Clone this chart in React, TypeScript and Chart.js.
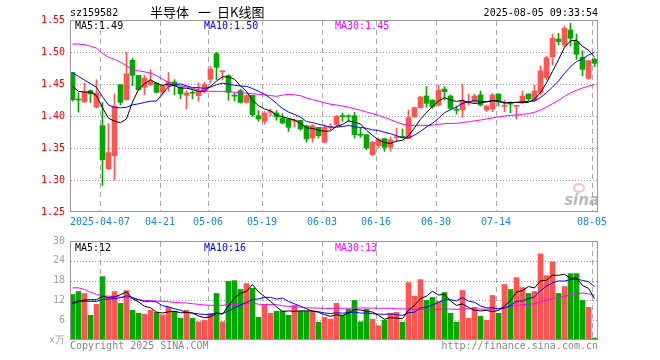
import React, { useEffect, useRef } from 'react';
import { Chart, registerables } from 'chart.js';
Chart.register(...registerables);

// ---------- data ----------
const DATE_LABELS = ['2025-04-07', '04-21', '05-06', '05-19', '06-03', '06-16', '06-30', '07-14', '08-05'];
const DATE_INDEX = [5, 15, 23, 32, 42, 51, 61, 71, 87];

const OPEN = [1.468, 1.4258, 1.422, 1.4396, 1.414, 1.385, 1.3177, 1.338, 1.449, 1.4255,
  1.487, 1.4635, 1.4448, 1.449, 1.4516, 1.437, 1.4464, 1.4531, 1.4453, 1.4323,
  1.4365, 1.4318, 1.4385, 1.4578, 1.4974, 1.469, 1.463, 1.4318, 1.4396, 1.4213,
  1.4323, 1.4005, 1.3917, 1.4057, 1.4047, 1.3969, 1.3953, 1.3917, 1.3932, 1.3849,
  1.3656, 1.3823, 1.359, 1.3823, 1.3865, 1.3995, 1.3995, 1.4005, 1.3705, 1.3708,
  1.3396, 1.3536, 1.3646, 1.3515, 1.366, 1.3672, 1.365, 1.399, 1.413, 1.4312,
  1.425, 1.4172, 1.4422, 1.4312, 1.4096, 1.4094, 1.4214, 1.4224, 1.4328, 1.4094,
  1.4109, 1.4344, 1.4151, 1.419, 1.4151, 1.4208, 1.4344, 1.425, 1.4364, 1.4599,
  1.4927, 1.5203, 1.511, 1.5344, 1.5162, 1.4917, 1.4588, 1.4885];
const HIGH = [1.468, 1.436, 1.4515, 1.441, 1.4568, 1.4213, 1.388, 1.4344, 1.449, 1.4995,
  1.49, 1.4635, 1.4635, 1.4724, 1.4526, 1.449, 1.468, 1.4568, 1.4453, 1.4396,
  1.44, 1.4516, 1.4526, 1.4776, 1.4995, 1.4708, 1.4646, 1.436, 1.442, 1.4333,
  1.4323, 1.4083, 1.407, 1.411, 1.4083, 1.4036, 1.3953, 1.3953, 1.3932, 1.3849,
  1.3865, 1.3823, 1.3865, 1.388, 1.401, 1.4047, 1.402, 1.4057, 1.3813, 1.3708,
  1.3604, 1.3656, 1.3646, 1.3672, 1.3813, 1.3797, 1.4094, 1.414, 1.431, 1.4458,
  1.425, 1.4484, 1.4458, 1.4328, 1.4156, 1.45, 1.4343, 1.4343, 1.439, 1.4172,
  1.4354, 1.4344, 1.425, 1.4224, 1.4156, 1.439, 1.4344, 1.4484, 1.4786, 1.4937,
  1.5281, 1.5292, 1.5406, 1.5448, 1.5281, 1.502, 1.4875, 1.4901];
const LOW = [1.423, 1.406, 1.421, 1.421, 1.4125, 1.2917, 1.316, 1.3005, 1.417, 1.4245,
  1.4474, 1.4405, 1.4333, 1.4474, 1.4365, 1.433, 1.4385, 1.4333, 1.427, 1.411,
  1.427, 1.423, 1.436, 1.4516, 1.4568, 1.4568, 1.4245, 1.423, 1.42, 1.42,
  1.3995, 1.3917, 1.3875, 1.4, 1.3932, 1.3875, 1.376, 1.3828, 1.3776, 1.359,
  1.359, 1.3656, 1.358, 1.3786, 1.384, 1.3917, 1.3917, 1.3656, 1.3667, 1.3474,
  1.338, 1.35, 1.3448, 1.3448, 1.3604, 1.366, 1.365, 1.3975, 1.412, 1.4135,
  1.412, 1.4156, 1.425, 1.4094, 1.403, 1.3979, 1.4172, 1.4198, 1.4156, 1.4068,
  1.4068, 1.4156, 1.4068, 1.405, 1.3953, 1.4198, 1.4234, 1.4224, 1.4328, 1.4562,
  1.4797, 1.511, 1.5083, 1.5094, 1.4885, 1.4625, 1.4573, 1.4771];
const CLOSE = [1.4255, 1.425, 1.4375, 1.4344, 1.436, 1.3317, 1.3427, 1.4156, 1.4213, 1.4661,
  1.4635, 1.441, 1.4594, 1.4542, 1.437, 1.4464, 1.4531, 1.4474, 1.4344, 1.436,
  1.4355, 1.4385, 1.449, 1.4734, 1.476, 1.4698, 1.437, 1.431, 1.4213, 1.4318,
  1.402, 1.3953, 1.4047, 1.4065, 1.3985, 1.3891, 1.3823, 1.3922, 1.3797, 1.3641,
  1.3849, 1.3693, 1.3823, 1.383, 1.3995, 1.399, 1.3988, 1.3708, 1.37, 1.35,
  1.359, 1.363, 1.351, 1.363, 1.367, 1.3667, 1.3974, 1.413, 1.4297, 1.4198,
  1.4146, 1.4406, 1.438, 1.412, 1.409, 1.4234, 1.4224, 1.4312, 1.4172, 1.4156,
  1.4328, 1.4224, 1.4156, 1.4185, 1.4156, 1.4312, 1.4265, 1.439, 1.4708, 1.4911,
  1.5214, 1.5162, 1.537, 1.5214, 1.4964, 1.4729, 1.4865, 1.4823];

const MA5 = [1.4464, 1.4385, 1.4375, 1.4375, 1.4317, 1.4129, 1.3965, 1.3921, 1.3895, 1.3955,
  1.4218, 1.4415, 1.4503, 1.4568, 1.451, 1.4476, 1.45, 1.4476, 1.4437, 1.4435,
  1.4413, 1.4384, 1.4387, 1.4465, 1.4545, 1.4613, 1.461, 1.4574, 1.447, 1.4382,
  1.4246, 1.4163, 1.411, 1.4081, 1.4014, 1.3988, 1.3962, 1.3937, 1.3884, 1.3815,
  1.3806, 1.378, 1.3761, 1.3767, 1.3838, 1.3866, 1.3925, 1.3902, 1.3876, 1.3777,
  1.3697, 1.3626, 1.3586, 1.3572, 1.3606, 1.3621, 1.369, 1.3814, 1.3948, 1.4053,
  1.4149, 1.4235, 1.4285, 1.425, 1.4228, 1.4246, 1.421, 1.4196, 1.4206, 1.422,
  1.4238, 1.4238, 1.4207, 1.421, 1.421, 1.4207, 1.4215, 1.4262, 1.4366, 1.4517,
  1.4698, 1.4877, 1.5073, 1.5174, 1.5185, 1.5088, 1.5028, 1.4919];
const MA10 = [1.4672, 1.462, 1.456, 1.4505, 1.445, 1.43, 1.417, 1.4135, 1.4128, 1.4136,
  1.4174, 1.419, 1.4212, 1.4232, 1.4233, 1.4347, 1.4458, 1.4489, 1.4503, 1.4472,
  1.4444, 1.4442, 1.4432, 1.4451, 1.449, 1.4513, 1.4497, 1.4481, 1.4468, 1.4463,
  1.443, 1.4387, 1.4342, 1.4275, 1.4198, 1.4117, 1.4063, 1.4024, 1.3982, 1.3914,
  1.3897, 1.3871, 1.3849, 1.3825, 1.3826, 1.3836, 1.3853, 1.3831, 1.3822, 1.3808,
  1.3782, 1.3775, 1.3744, 1.3724, 1.3692, 1.3659, 1.3658, 1.37, 1.376, 1.383,
  1.3885, 1.3963, 1.405, 1.4099, 1.4141, 1.4198, 1.4223, 1.4241, 1.4228, 1.4224,
  1.4242, 1.4224, 1.4202, 1.4208, 1.4215, 1.4223, 1.4227, 1.4234, 1.4288, 1.4364,
  1.4452, 1.4546, 1.4667, 1.477, 1.4851, 1.4893, 1.4953, 1.4996];
const MA30 = [1.5125, 1.5125, 1.5115, 1.509, 1.506, 1.498, 1.492, 1.4885, 1.484, 1.479,
  1.4724, 1.4705, 1.469, 1.467, 1.463, 1.4575, 1.4525, 1.4495, 1.4475, 1.4455,
  1.443, 1.441, 1.4395, 1.4385, 1.4385, 1.4385, 1.4378, 1.4372, 1.4365, 1.4357,
  1.4349, 1.4339, 1.4329, 1.4319, 1.4307, 1.4326, 1.4339, 1.4331, 1.4317, 1.4283,
  1.4257, 1.4233, 1.4208, 1.4184, 1.4171, 1.4156, 1.4137, 1.4112, 1.409, 1.4062,
  1.4036, 1.4011, 1.3978, 1.3942, 1.3905, 1.3871, 1.3858, 1.3852, 1.3855, 1.3851,
  1.3855, 1.387, 1.3881, 1.3883, 1.3886, 1.3898, 1.3911, 1.3924, 1.3937, 1.3954,
  1.397, 1.3987, 1.3999, 1.401, 1.4016, 1.4026, 1.4036, 1.4058, 1.4092, 1.4139,
  1.4193, 1.4244, 1.4306, 1.4359, 1.4402, 1.4438, 1.4467, 1.449];

const VOLUME = [13.8, 14.7, 14.1, 7.5, 10.8, 19.2, 12.9, 14.7, 11.1, 15.0,
  9.0, 8.1, 7.8, 9.0, 8.4, 7.6, 9.9, 8.7, 6.6, 9.0,
  6.6, 5.5, 6.0, 8.1, 14.1, 5.5, 17.8, 18.0, 15.3, 17.1,
  15.7, 6.9, 10.8, 8.1, 8.7, 8.8, 7.5, 10.5, 8.7, 8.7,
  8.7, 5.4, 6.9, 6.3, 11.1, 7.5, 9.3, 12.0, 5.5, 9.3,
  6.3, 4.3, 6.0, 8.1, 8.4, 5.4, 17.4, 13.3, 18.3, 12.0,
  12.9, 11.7, 14.4, 8.1, 5.4, 15.0, 6.6, 9.9, 7.2, 6.0,
  13.5, 8.1, 16.8, 15.3, 18.9, 15.9, 14.1, 14.7, 26.1, 19.5,
  23.7, 14.1, 16.2, 20.1, 20.1, 12.0, 9.9, 0.6];
const VMA5 = [11.3, 11.8, 12.1, 12.2, 12.18, 13.26, 12.9, 13.02, 13.74, 14.58,
  12.54, 11.58, 10.2, 9.78, 8.46, 8.18, 8.54, 8.72, 8.24, 8.36,
  8.16, 7.28, 6.74, 7.04, 8.06, 7.84, 10.3, 12.7, 14.14, 14.74,
  16.78, 14.6, 13.16, 11.72, 10.04, 8.66, 8.78, 8.72, 8.84, 8.84,
  8.82, 8.4, 7.68, 7.2, 7.68, 7.44, 8.22, 9.24, 9.08, 8.72,
  8.48, 7.48, 6.28, 6.8, 6.62, 6.44, 9.06, 10.52, 12.56, 13.28,
  14.78, 13.64, 13.86, 11.82, 10.5, 10.92, 9.9, 9.0, 8.82, 8.94,
  8.64, 8.94, 10.32, 11.94, 14.52, 15.0, 16.2, 15.78, 17.94, 18.06,
  19.62, 19.62, 19.92, 18.72, 18.84, 16.5, 15.66, 12.54];
const VMA10 = [11.0, 11.6, 11.8, 11.7, 11.7, 12.3, 12.4, 12.5, 12.8, 13.38,
  12.9, 12.24, 11.61, 11.76, 11.52, 10.36, 10.06, 9.46, 9.01, 8.41,
  8.17, 7.91, 7.73, 7.64, 8.21, 8.0, 8.79, 9.72, 10.59, 11.4,
  12.31, 12.45, 12.93, 12.93, 12.39, 12.72, 11.69, 10.94, 10.28, 9.44,
  8.74, 8.59, 8.2, 8.02, 8.26, 8.13, 8.31, 8.46, 8.14, 8.2,
  7.96, 7.85, 7.76, 7.94, 7.67, 7.46, 8.27, 8.4, 9.68, 9.95,
  10.61, 11.35, 12.19, 12.19, 11.89, 12.85, 11.77, 11.43, 10.32, 9.72,
  9.78, 9.42, 9.66, 10.38, 11.73, 11.82, 12.57, 13.05, 14.94, 16.29,
  17.31, 17.91, 17.85, 18.33, 18.45, 18.06, 17.64, 16.23];
const VMA30 = [15.8, 15.8, 15.3, 14.5, 13.8, 13.4, 13.3, 13.2, 13.0, 12.8,
  12.6, 12.2, 12.0, 11.9, 11.8, 11.7, 11.6, 11.4, 11.3, 11.2,
  11.0, 10.8, 10.6, 10.5, 10.5, 10.5, 10.7, 10.8, 10.9, 11.06,
  11.13, 10.87, 10.76, 10.78, 10.71, 10.36, 10.18, 10.04, 9.96, 9.75,
  9.74, 9.65, 9.62, 9.53, 9.62, 9.62, 9.6, 9.71, 9.67, 9.68,
  9.67, 9.63, 9.63, 9.63, 9.44, 9.44, 9.42, 9.27, 9.37, 9.2,
  9.1, 9.26, 9.38, 9.38, 9.27, 9.48, 9.45, 9.43, 9.38, 9.29,
  9.45, 9.54, 9.87, 10.17, 10.43, 10.71, 10.87, 10.96, 11.65, 11.99,
  12.57, 12.89, 13.23, 13.63, 14.02, 14.24, 13.99, 13.57];

const PRICE_TICKS = [1.25, 1.3, 1.35, 1.4, 1.45, 1.5, 1.55];
const VOLUME_TICKS = [0, 6, 12, 18, 24, 30];

const TITLE_CODE = 'sz159582';
const TITLE_NAME = '半导体';
const TITLE_DASH = '一';
const TITLE_KIND = '日K线图';
const TITLE_TIME = '2025-08-05 09:33:54';
const PRICE_LEGEND = ['MA5:1.49', 'MA10:1.50', 'MA30:1.45'];
const VOLUME_LEGEND = ['MA5:12', 'MA10:16', 'MA30:13'];
const COPYRIGHT = 'Copyright 2025 SINA.COM';
const SITE = 'http://finance.sina.com.cn';

// ---------- style ----------
const UP = '#ff5555';
const DOWN = '#00a800';
const MA_COLORS = ['#000000', '#0000ff', '#ff00ff'];
const GRID_H = '#999999';
const GRID_V = '#aaaaaa';
const FRAME = '#999999';
const MONO = '"DejaVu Sans Mono", "Liberation Mono", monospace';
const CJK = '"Noto Sans CJK SC", sans-serif';
const SLOT_CENTER = 2.5 / 6;

const N = CLOSE.length;
const xOf = (i: number) => i + SLOT_CENTER;
const candleColor = CLOSE.map((c, i) => (c >= OPEN[i] ? UP : DOWN));

const lineSet = (label: string, arr: number[], color: string) => ({
  type: 'line' as const,
  label,
  data: arr.map((y, i) => ({ x: xOf(i), y })),
  borderColor: color,
  borderWidth: 1,
  pointRadius: 0,
  tension: 0,
  fill: false,
  order: 0,
});

const xScale = (showLabels: boolean, height: number) => ({
  type: 'linear' as const,
  min: 0,
  max: N,
  offset: false,
  afterBuildTicks: (s: any) => {
    s.ticks = DATE_INDEX.map((v) => ({ value: v }));
  },
  afterFit: (s: any) => {
    s.height = height;
  },
  ticks: {
    display: showLabels,
    autoSkip: false,
    maxRotation: 0,
    minRotation: 0,
    padding: 4,
    color: '#1c84e0',
    font: { family: MONO, size: 10 },
    callback: (_v: any, idx: number) => DATE_LABELS[idx],
  },
  grid: { display: false, drawTicks: false, offset: false },
  border: { display: false },
});

const yScale = (min: number, max: number, ticks: number[], color: string, fmt: (v: number) => string) => ({
  type: 'linear' as const,
  min,
  max,
  afterBuildTicks: (s: any) => {
    s.ticks = ticks.map((v) => ({ value: v }));
  },
  afterFit: (s: any) => {
    s.width = 70;
  },
  ticks: {
    color,
    padding: 5,
    font: { family: MONO, size: 10 },
    callback: (v: any) => fmt(Number(v)),
  },
  grid: { display: false, drawTicks: false },
  border: { display: false },
});

// pixel of a value on a scale (library scale first, linear fallback)
function pix(scale: any, v: number, lo: number, hi: number, p0: number, p1: number) {
  let p = scale && typeof scale.getPixelForValue === 'function' ? Number(scale.getPixelForValue(v)) : NaN;
  if (!Number.isFinite(p)) p = p0 + ((v - lo) / (hi - lo)) * (p1 - p0);
  return Math.round(p);
}

function paintGrid(chart: any, yTicks: number[], yMin: number, yMax: number) {
  const ctx = chart.ctx;
  const a = chart.chartArea;
  const left = Math.round(Number(a.left));
  const right = Math.round(Number(a.right));
  const top = Math.round(Number(a.top));
  const bottom = Math.round(Number(a.bottom));
  ctx.save();
  ctx.globalAlpha = 1;
  ctx.globalCompositeOperation = 'source-over';
  ctx.setLineDash([]);
  ctx.fillStyle = GRID_H;
  for (let k = 1; k < yTicks.length - 1; k++) {
    const py = pix(chart.scales.y, yTicks[k], yMin, yMax, bottom, top);
    for (let x = left + 1; x < right - 1; x += 3) ctx.fillRect(x, py, 1, 1);
  }
  ctx.fillStyle = GRID_V;
  for (let k = 0; k < DATE_INDEX.length; k++) {
    const px = pix(chart.scales.x, DATE_INDEX[k], 0, N, left, right);
    for (let y = top + 1; y < bottom - 1; y += 9) ctx.fillRect(px, y, 1, Math.min(5, bottom - 1 - y));
  }
  ctx.restore();
}

function drawFrame(chart: any) {
  const { ctx, chartArea: a } = chart;
  ctx.save();
  ctx.strokeStyle = FRAME;
  ctx.lineWidth = 1;
  ctx.strokeRect(a.left + 0.5, a.top + 0.5, a.right - a.left - 1, a.bottom - a.top - 1);
  ctx.restore();
}

function text(ctx: any, s: string, x: number, y: number, color: string, font: string, align = 'left') {
  ctx.fillStyle = color;
  ctx.font = font;
  ctx.textAlign = align;
  ctx.textBaseline = 'middle';
  ctx.fillText(s, x, y);
}

const priceDeco = {
  id: 'priceDeco',
  beforeDatasetsDraw(chart: any) {
    const { ctx, chartArea: a } = chart;
    paintGrid(chart, PRICE_TICKS, 1.25, 1.55);
    ctx.save();
    ctx.strokeStyle = 'rgba(240,110,110,0.45)';
    ctx.lineWidth = 2;
    ctx.beginPath();
    ctx.ellipse(a.right - 19, a.bottom - 24, 5, 4, 0, 0, Math.PI * 2);
    ctx.stroke();
    ctx.fillStyle = 'rgba(130,130,130,0.55)';
    ctx.font = 'italic bold 15px "DejaVu Sans", sans-serif';
    ctx.textAlign = 'right';
    ctx.textBaseline = 'alphabetic';
    ctx.fillText('sina', a.right + 1, a.bottom - 7);
    ctx.restore();
  },
  afterDraw(chart: any) {
    const { ctx, chartArea: a } = chart;
    drawFrame(chart);
    ctx.save();
    const f10 = `10px ${MONO}`;
    text(ctx, TITLE_CODE, a.left, 13, '#000', f10);
    const fc = `13px ${CJK}`;
    text(ctx, TITLE_NAME, 150, 12, '#000', fc);
    text(ctx, TITLE_DASH, 198, 12, '#000', fc);
    text(ctx, TITLE_KIND, 217, 12, '#000', fc);
    text(ctx, TITLE_TIME, a.right, 13, '#000', f10, 'right');
    text(ctx, PRICE_LEGEND[0], a.left + 5, a.top + 6, MA_COLORS[0], f10);
    text(ctx, PRICE_LEGEND[1], a.left + 134, a.top + 6, MA_COLORS[1], f10);
    text(ctx, PRICE_LEGEND[2], a.left + 265, a.top + 6, MA_COLORS[2], f10);
    ctx.restore();
  },
};

const volumeDeco = {
  id: 'volumeDeco',
  beforeDatasetsDraw(chart: any) {
    paintGrid(chart, VOLUME_TICKS, 0, 30);
  },
  afterDraw(chart: any) {
    const { ctx, chartArea: a } = chart;
    drawFrame(chart);
    ctx.save();
    const f10 = `10px ${MONO}`;
    text(ctx, VOLUME_LEGEND[0], a.left + 5, a.top + 7, MA_COLORS[0], f10);
    text(ctx, VOLUME_LEGEND[1], a.left + 134, a.top + 7, MA_COLORS[1], f10);
    text(ctx, VOLUME_LEGEND[2], a.left + 265, a.top + 7, MA_COLORS[2], f10);
    text(ctx, COPYRIGHT, a.left, a.bottom + 6, '#888', f10);
    text(ctx, SITE, a.right, a.bottom + 6, '#888', f10, 'right');
    ctx.restore();
  },
};

export default function App() {
  const priceRef = useRef<HTMLCanvasElement | null>(null);
  const volRef = useRef<HTMLCanvasElement | null>(null);

  useEffect(() => {
    const priceChart = new Chart(priceRef.current as HTMLCanvasElement, {
      type: 'bar',
      data: {
        datasets: [
          lineSet('MA5', MA5, MA_COLORS[0]),
          lineSet('MA10', MA10, MA_COLORS[1]),
          lineSet('MA30', MA30, MA_COLORS[2]),
          {
            type: 'bar',
            label: 'body',
            data: OPEN.map((o, i) => ({ x: xOf(i), y: [Math.min(o, CLOSE[i]), Math.max(o, CLOSE[i])] })),
            backgroundColor: candleColor,
            barThickness: 5,
            minBarLength: 1,
            grouped: false,
            borderWidth: 0,
            order: 1,
          },
          {
            type: 'bar',
            label: 'wick',
            data: LOW.map((l, i) => ({ x: xOf(i), y: [l, HIGH[i]] })),
            backgroundColor: candleColor,
            barThickness: 1,
            grouped: false,
            borderWidth: 0,
            order: 2,
          },
        ] as any,
      },
      options: {
        responsive: false,
        animation: false,
        devicePixelRatio: 1,
        events: [],
        layout: { padding: { left: 0, right: 62, top: 20, bottom: 0 } },
        plugins: { legend: { display: false }, tooltip: { enabled: false } },
        scales: {
          x: xScale(true, 18) as any,
          y: yScale(1.25, 1.55, PRICE_TICKS, '#ff0000', (v) => v.toFixed(2)) as any,
        },
      },
      plugins: [priceDeco],
    });

    const volChart = new Chart(volRef.current as HTMLCanvasElement, {
      type: 'bar',
      data: {
        datasets: [
          lineSet('MA5', VMA5, MA_COLORS[0]),
          lineSet('MA10', VMA10, MA_COLORS[1]),
          lineSet('MA30', VMA30, MA_COLORS[2]),
          {
            type: 'bar',
            label: 'volume',
            data: VOLUME.map((v, i) => ({ x: xOf(i), y: v })),
            backgroundColor: candleColor,
            barThickness: 5,
            grouped: false,
            borderWidth: 0,
            order: 1,
          },
        ] as any,
      },
      options: {
        responsive: false,
        animation: false,
        devicePixelRatio: 1,
        events: [],
        layout: { padding: { left: 0, right: 62, top: 10, bottom: 0 } },
        plugins: { legend: { display: false }, tooltip: { enabled: false } },
        scales: {
          x: xScale(false, 20) as any,
          y: yScale(0, 30, VOLUME_TICKS, '#a0a0a0', (v) => (v === 0 ? 'x万' : String(v))) as any,
        },
      },
      plugins: [volumeDeco],
    });

    return () => {
      priceChart.destroy();
      volChart.destroy();
    };
  }, []);

  return (
    <div style={{ position: 'fixed', left: 0, top: 0, width: 660, height: 360, background: '#fff', overflow: 'hidden' }}>
      <canvas ref={priceRef} width={660} height={230} style={{ position: 'absolute', left: 0, top: 0, width: 660, height: 230 }} />
      <canvas ref={volRef} width={660} height={130} style={{ position: 'absolute', left: 0, top: 230, width: 660, height: 130 }} />
    </div>
  );
}
